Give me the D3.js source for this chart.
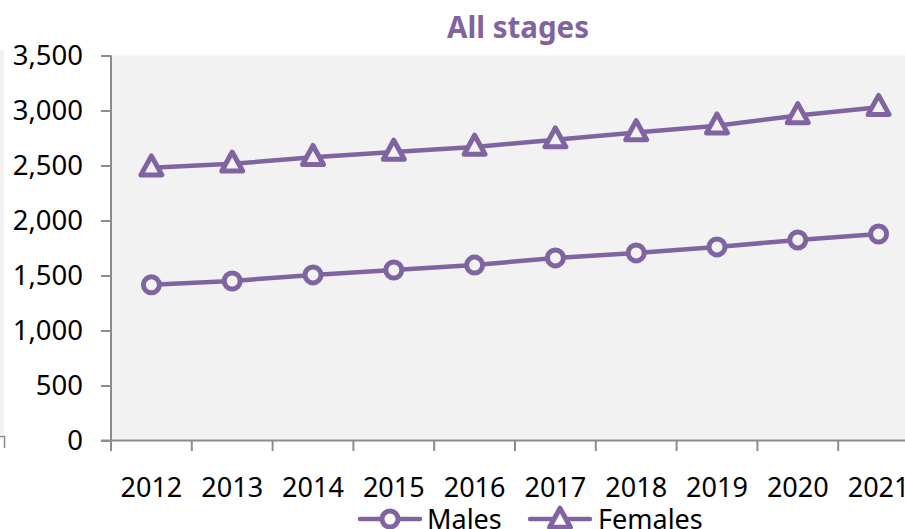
<!DOCTYPE html>
<html>
<head>
<meta charset="utf-8">
<script src="https://cdn.jsdelivr.net/npm/d3@7"></script>
<style>
  html, body { margin: 0; padding: 0; background: #fff; }
  svg { display: block; }
</style>
</head>
<body>
<svg id="chart" width="905" height="529"></svg>
<script>
// Annual counts, all stages
const years = ["2012", "2013", "2014", "2015", "2016", "2017", "2018", "2019", "2020", "2021"];
const males = [1415, 1450, 1505, 1550, 1595, 1660, 1705, 1760, 1823, 1877];
const females = [2480, 2515, 2575, 2623, 2668, 2735, 2800, 2862, 2955, 3030];
const yTicks = [0, 500, 1000, 1500, 2000, 2500, 3000, 3500];
const seriesNames = ["Males", "Females"];

const purple = "#8064A2";
const axisColor = "#8c8c8c";
const font = "'Noto Sans', 'Open Sans', sans-serif";

const svg = d3.select("#chart");

const plot = { left: 111, top: 55.5, bottom: 440.5, right: 919 };

const x = d3.scaleBand().domain(years).range([plot.left, plot.right]).padding(0);
const y = d3.scaleLinear().domain([0, 3500]).range([plot.bottom, plot.top]);

// Neighbouring panel edge on the far left
svg.append("rect").attr("x", 0).attr("y", 50).attr("width", 4).attr("height", 384).attr("fill", "#f2f2f2");
svg.append("path").attr("d", "M0,436.5H4.5V448").attr("fill", "none").attr("stroke", axisColor).attr("stroke-width", 1.5);

// Plot background
svg.append("rect")
  .attr("x", plot.left).attr("y", plot.top)
  .attr("width", plot.right - plot.left).attr("height", plot.bottom - plot.top)
  .attr("fill", "#f2f2f2");

// Title
svg.append("text")
  .attr("x", 518).attr("y", 38)
  .attr("text-anchor", "middle")
  .attr("font-family", font).attr("font-weight", "bold").attr("font-size", 29.5)
  .attr("fill", purple)
  .text("All stages");

// Y axis
const yAxis = d3.axisLeft(y).tickValues(yTicks).tickSize(10).tickPadding(18)
  .tickFormat(d3.format(","));
const gy = svg.append("g").attr("transform", `translate(${plot.left},0)`).call(yAxis);
gy.select(".domain").remove();
gy.selectAll(".tick line").attr("stroke", axisColor).attr("stroke-width", 2);
gy.selectAll(".tick text").attr("font-family", font).attr("font-size", 27.5).attr("fill", "#000").attr("dy", "0.34em");
svg.append("line").attr("x1", plot.left).attr("x2", plot.left).attr("y1", plot.top).attr("y2", plot.bottom + 10.5)
  .attr("stroke", axisColor).attr("stroke-width", 2);

// X axis: ticks at category boundaries, labels centered
const gx = svg.append("g").attr("transform", `translate(0,${plot.bottom})`);
gx.append("line").attr("x1", plot.left - 10).attr("x2", 905).attr("stroke", axisColor).attr("stroke-width", 2);
gx.selectAll("line.tk").data(years).join("line").attr("class", "tk")
  .attr("x1", d => x(d)).attr("x2", d => x(d)).attr("y1", 0).attr("y2", 10.5)
  .attr("stroke", axisColor).attr("stroke-width", 2);
gx.selectAll("text").data(years).join("text")
  .attr("x", d => x(d) + x.bandwidth() / 2).attr("y", 56)
  .attr("text-anchor", "middle")
  .attr("font-family", font).attr("font-size", 27).attr("fill", "#000")
  .text(d => d);

const cx = d => x(d) + x.bandwidth() / 2;
const line = d3.line().x((d, i) => cx(years[i])).y(d => y(d));

const triPath = s => `M0,${-s * 0.62}L${s * 0.55},${s * 0.38}L${-s * 0.55},${s * 0.38}Z`;

function drawSeries(values, shape) {
  const g = svg.append("g");
  g.append("path").datum(values).attr("d", line)
    .attr("fill", "none").attr("stroke", purple).attr("stroke-width", 4.5).attr("stroke-linejoin", "round");
  const m = g.selectAll("g.m").data(values).join("g").attr("class", "m")
    .attr("transform", (d, i) => `translate(${cx(years[i])},${y(d)})`);
  if (shape === "circle") {
    m.append("circle").attr("r", 8).attr("fill", "#f2f2f2").attr("stroke", purple).attr("stroke-width", 5);
  } else {
    m.append("path").attr("d", triPath(19)).attr("fill", "#f2f2f2").attr("stroke", purple)
      .attr("stroke-width", 5).attr("stroke-linejoin", "round");
  }
}
drawSeries(males, "circle");
drawSeries(females, "triangle");

// Legend
const legend = svg.append("g");
const items = [
  { name: seriesNames[0], shape: "circle", x0: 360, tx: 427 },
  { name: seriesNames[1], shape: "triangle", x0: 530, tx: 598 }
];
items.forEach(it => {
  const g = legend.append("g");
  g.append("line").attr("x1", it.x0).attr("x2", it.x0 + 60).attr("y1", 519).attr("y2", 519)
    .attr("stroke", purple).attr("stroke-width", 4.5).attr("stroke-linecap", "round");
  if (it.shape === "circle") {
    g.append("circle").attr("cx", it.x0 + 30).attr("cy", 519).attr("r", 8)
      .attr("fill", "#fff").attr("stroke", purple).attr("stroke-width", 5);
  } else {
    g.append("path").attr("transform", `translate(${it.x0 + 30},520)`).attr("d", triPath(19))
      .attr("fill", "#fff").attr("stroke", purple).attr("stroke-width", 5).attr("stroke-linejoin", "round");
  }
  g.append("text").attr("x", it.tx).attr("y", 529)
    .attr("font-family", font).attr("font-size", 27).attr("fill", "#000")
    .text(it.name);
});
</script>
</body>
</html>
